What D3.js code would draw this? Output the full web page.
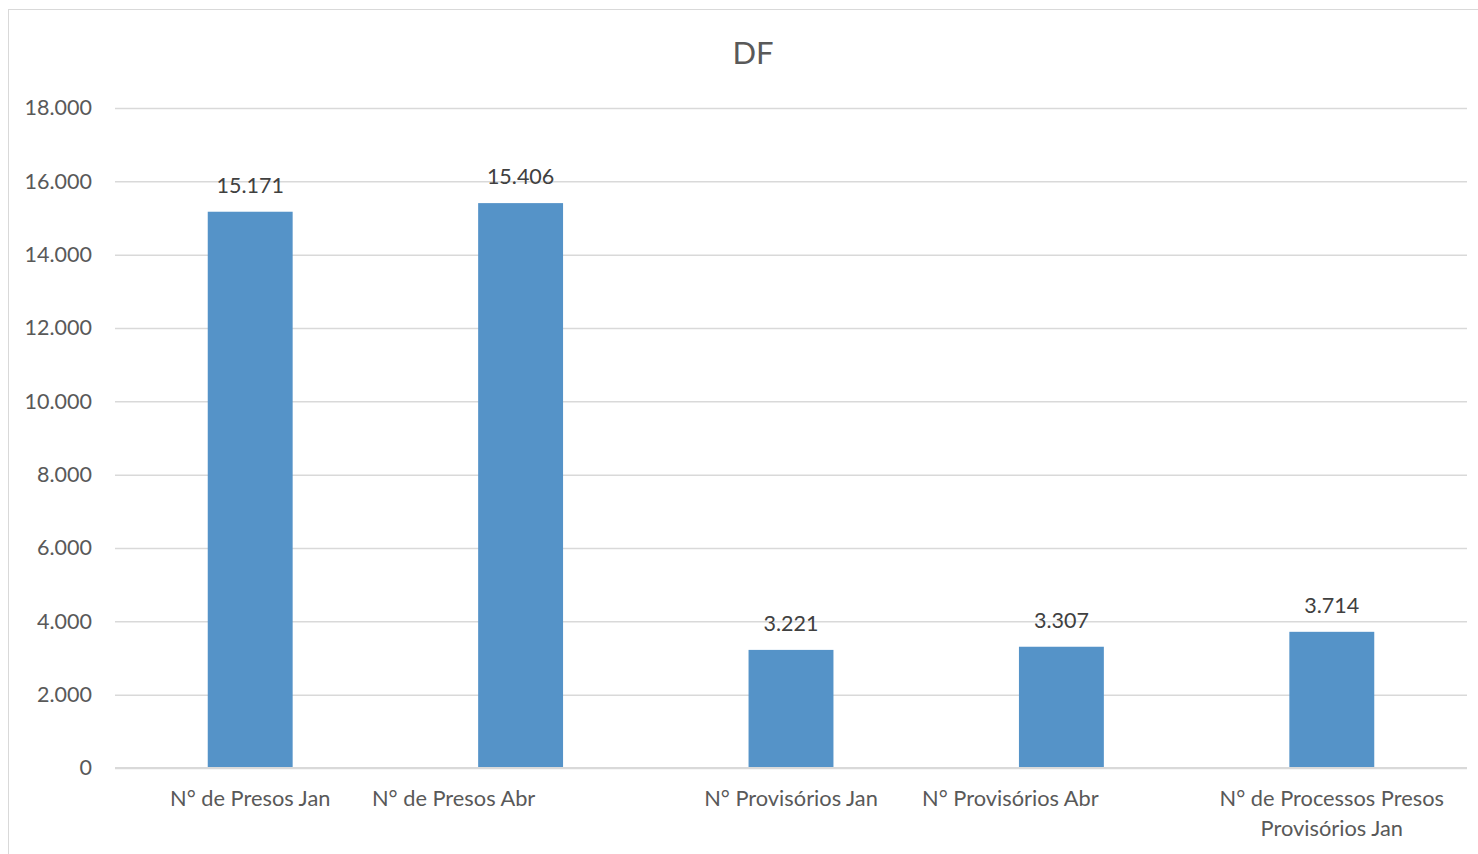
<!DOCTYPE html>
<html><head><meta charset="utf-8">
<script src="https://cdn.jsdelivr.net/npm/d3@7"></script>
<style>
html,body{margin:0;padding:0;background:#fff;}
svg text{font-family:Lato,"Open Sans",sans-serif;}
</style></head>
<body><svg id="c" width="1478" height="854"></svg>
<script>
const title = "DF";
const categories = ["N° de Presos Jan","N° de Presos Abr","N° Provisórios Jan","N° Provisórios Abr","N° de Processos Presos Provisórios Jan"];
const categoryLines = [["N° de Presos Jan"],["N° de Presos Abr"],["N° Provisórios Jan"],["N° Provisórios Abr"],["N° de Processos Presos","Provisórios Jan"]];
const values = [15171, 15406, 3221, 3307, 3714];
const yTicks = [0,2000,4000,6000,8000,10000,12000,14000,16000,18000];

(function(){
const svg = d3.select("#c");
const W=1478,H=854;
svg.append("rect").attr("x",8.5).attr("y",9.5).attr("width",W).attr("height",H).attr("fill","#fff").attr("stroke","#d9d9d9").attr("stroke-width",1);

const pl=115,pr=1467,pt=108,pb=768;
const x=d3.scaleBand().domain(categories).range([pl,pr]).paddingInner(0.686).paddingOuter(0.343);
const y=d3.scaleLinear().domain([0,18000]).range([pb,pt]);
const fmt = v => d3.format(",")(v).replace(/,/g,".");

svg.append("text").attr("x",753).attr("y",64).attr("text-anchor","middle").attr("fill","#595959").attr("font-size",31).text(title);

const yAxis=d3.axisLeft(y).tickValues(yTicks).tickSize(-(pr-pl)).tickFormat(fmt);
const g=svg.append("g").attr("transform",`translate(${pl},0)`).call(yAxis);
g.select(".domain").remove();
g.selectAll(".tick line").attr("stroke","#d9d9d9").attr("stroke-width",1.5);
g.selectAll(".tick text").attr("fill","#595959").attr("font-size",21.5).attr("x",-23);

svg.selectAll("rect.bar").data(values).enter().append("rect").attr("class","bar")
  .attr("x",(d,i)=>x(categories[i])).attr("width",x.bandwidth())
  .attr("y",d=>y(d)).attr("height",d=>y(0)-y(d)).attr("fill","#5593c8");

svg.append("line").attr("x1",pl).attr("x2",pr).attr("y1",pb).attr("y2",pb).attr("stroke","#d9d9d9").attr("stroke-width",2);

svg.selectAll("text.val").data(values).enter().append("text").attr("class","val")
  .attr("x",(d,i)=>x(categories[i])+x.bandwidth()/2).attr("y",d=>y(d)-19)
  .attr("text-anchor","middle").attr("fill","#404040").attr("font-size",21.5).text(fmt);

const labelDx=[0,-67,0,-51,0];
const xl=svg.selectAll("text.cat").data(categories).enter().append("text").attr("class","cat")
  .attr("text-anchor","middle").attr("fill","#595959").attr("font-size",21.8)
  .attr("transform",(d,i)=>`translate(${x(d)+x.bandwidth()/2+labelDx[i]},806)`);
xl.each(function(d,i){
  const t=d3.select(this);
  categoryLines[i].forEach((ln,j)=>t.append("tspan").attr("x",0).attr("dy",j?30:0).text(ln));
});
})();
</script></body></html>
